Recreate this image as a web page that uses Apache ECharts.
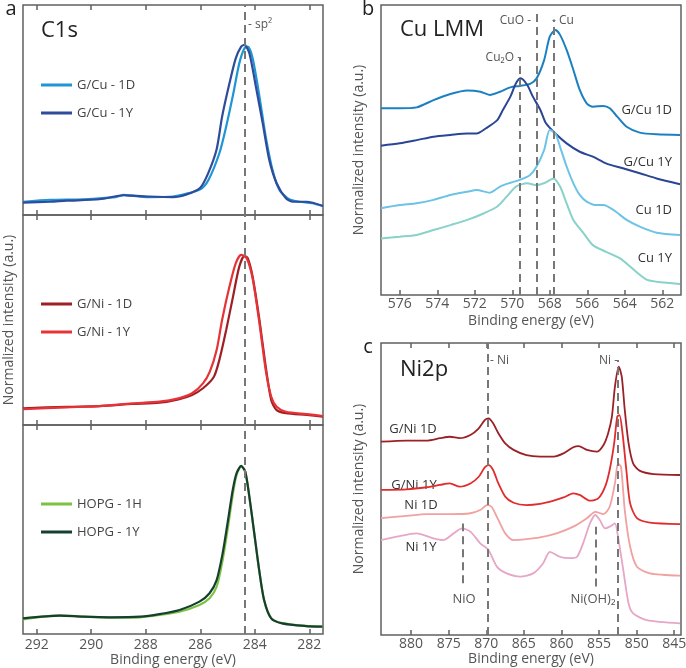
<!DOCTYPE html>
<html><head><meta charset="utf-8">
<script src="https://cdn.jsdelivr.net/npm/echarts/dist/echarts.min.js"></script>
<style>html,body{margin:0;padding:0;background:#fff}#c{width:686px;height:668px}</style>
</head><body><div id="c"></div>
<script>
// ---------- tick labels ----------
const c1sTicks = [282, 284, 286, 288, 290, 292];
const cuTicks = [562, 564, 566, 568, 570, 572, 574, 576];
const niTicks = [845, 850, 855, 860, 865, 870, 875, 880];

// ---------- panel a : C1s (binding energy eV, normalized intensity) ----------
const c1sGCu1D = [[292.5,6.3],[291.5,7.2],[290.3,7.5],[289.1,8.5],[288.8,9.6],[288.5,9.2],[287.9,8.5],[287.0,8.8],[286.5,10.2],[286.0,12.2],[285.7,16.7],[285.3,29.4],[285.05,42.1],[284.8,57.1],[284.57,72.2],[284.38,79.4],[284.26,80.2],[284.08,74.6],[283.83,56.4],[283.6,37.3],[283.35,21.4],[283.1,11.9],[282.74,7.5],[282.37,6.3],[281.9,5.6],[281.5,4.3]];
const c1sGCu1Y = [[292.5,5.9],[291.5,6.3],[290.9,6.8],[289.7,7.5],[288.8,9.4],[288.5,9.2],[287.9,8.8],[287.0,8.5],[286.5,9.8],[286.0,13.0],[285.7,20.2],[285.4,31.3],[285.2,46.8],[284.93,62.7],[284.7,74.6],[284.5,80.2],[284.38,81.0],[284.2,77.0],[283.96,61.1],[283.7,42.9],[283.47,26.2],[283.2,15.1],[282.86,8.0],[282.6,6.3],[282.1,6.3],[281.5,4.3]];
const c1sGNi1D = [[292.5,7.9],[290.9,8.7],[289.7,9.0],[288.5,10.0],[287.5,10.6],[286.8,12.2],[286.3,14.3],[285.9,17.5],[285.5,23.0],[285.3,31.0],[285.05,45.2],[284.8,61.1],[284.57,75.4],[284.38,80.5],[284.26,79.4],[284.08,70.6],[283.83,50.0],[283.6,27.8],[283.4,11.9],[283.2,7.1],[282.86,5.6],[282.1,4.8],[281.5,4.0]];
const c1sGNi1Y = [[292.5,7.5],[290.9,8.4],[289.7,9.0],[288.5,10.3],[287.5,11.1],[286.8,12.7],[286.3,15.1],[285.9,19.8],[285.65,25.4],[285.4,35.7],[285.2,50.0],[284.93,65.9],[284.7,77.0],[284.5,81.0],[284.3,79.4],[284.08,69.8],[283.83,48.4],[283.6,26.2],[283.4,13.5],[283.2,8.7],[282.86,6.3],[282.1,5.2],[281.5,4.3]];
const c1sHOPG1H = [[292.5,7.0],[291.15,8.9],[290.3,8.3],[289.3,7.8],[288.2,8.0],[287.5,9.1],[286.76,10.7],[286.03,13.9],[285.66,17.1],[285.4,22.6],[285.18,35.4],[285.0,49.8],[284.81,66.5],[284.67,76.1],[284.5,80.2],[284.35,77.5],[284.2,65.5],[284.02,48.0],[283.84,30.5],[283.66,16.2],[283.4,7.6],[283.0,5.2],[282.13,3.9],[281.52,3.6]];
const c1sHOPG1Y = [[292.5,7.5],[291.15,8.8],[290.3,8.3],[289.3,8.0],[288.2,8.3],[287.5,9.5],[286.76,11.5],[286.03,15.5],[285.66,19.5],[285.4,25.8],[285.18,38.6],[285.0,53.0],[284.81,68.9],[284.67,76.9],[284.5,80.4],[284.35,77.7],[284.2,65.7],[284.02,48.2],[283.84,30.6],[283.66,16.3],[283.4,7.5],[283.0,5.1],[282.13,3.8],[281.52,3.5]];
const sp2Energy = 284.38;

// ---------- panel b : Cu LMM ----------
const cuGCu1D = [[577,64.4],[576,64.4],[575.1,64.7],[574.2,67.2],[573.3,69.3],[572.4,70.5],[571.7,70.1],[571.2,69.0],[570.65,70.1],[570.1,71.6],[569.6,72.1],[569.05,72.8],[568.7,74.7],[568.3,81.0],[568.0,89.1],[567.7,91.4],[567.45,89.7],[567.1,84.5],[566.74,77.6],[566.4,70.7],[566.03,66.1],[565.7,64.9],[565.14,65.2],[564.8,64.4],[564.4,61.5],[563.9,58.0],[563.2,56.0],[562.3,55.4],[561.05,55.2]];
const cuGCu1Y = [[577,51.5],[576,52.3],[575.1,53.4],[574.2,54.6],[573.3,55.2],[572.4,55.7],[571.9,55.7],[571.4,57.5],[570.8,60.3],[570.5,63.8],[570.1,68.4],[569.8,73.0],[569.55,74.7],[569.2,72.4],[568.9,68.4],[568.5,63.8],[568.2,59.2],[567.7,55.7],[567.1,52.3],[566.4,49.4],[565.7,47.7],[565.0,45.4],[564.1,43.7],[563.2,42.0],[562.3,40.2],[561.05,38.2]];
const cuCu1D = [[577,29.9],[576,31.0],[575.1,31.6],[574.2,32.8],[573.3,34.5],[572.4,35.6],[571.9,36.2],[571.2,35.3],[570.65,37.4],[570.1,38.7],[569.6,39.7],[569.05,41.4],[568.7,44.3],[568.3,50.0],[568.0,56.9],[567.7,55.7],[567.45,51.1],[567.1,44.3],[566.74,38.5],[566.4,34.5],[566.03,32.2],[565.5,31.0],[565.14,31.0],[564.6,29.3],[563.9,25.9],[563.2,23.6],[562.3,21.5],[561.05,20.7]];
const cuCu1Y = [[577,19.5],[576,20.1],[575.1,20.7],[574.2,22.4],[573.3,24.1],[572.4,25.9],[571.5,28.2],[570.8,30.5],[570.3,33.9],[569.8,37.4],[569.2,38.5],[568.7,37.9],[568.25,38.7],[567.8,40.2],[567.45,37.4],[567.1,31.6],[566.74,25.9],[566.2,21.3],[565.7,17.2],[565.0,14.9],[564.25,12.6],[563.5,8.6],[562.8,5.2],[561.9,4.3],[561.05,3.8]];
const cuRefLines = [ {name:'Cu2O', energy:569.6, top:82}, {name:'CuO', energy:568.7, top:98}, {name:'Cu', energy:567.8, top:95} ];

// ---------- panel c : Ni2p ----------
const niGNi1D = [[884.0,66.2],[880.57,66.6],[877.95,66.6],[876.14,67.4],[874.83,67.9],[873.52,67.4],[872.11,68.5],[871.0,70.8],[870.2,73.6],[869.7,74.2],[869.09,72.5],[868.39,69.1],[867.48,65.6],[866.37,63.4],[864.66,61.6],[862.85,61.1],[861.04,61.1],[859.73,62.2],[858.42,64.3],[857.72,64.7],[856.61,63.4],[855.3,62.8],[854.4,65.1],[853.79,69.1],[853.29,74.8],[852.89,85.0],[852.38,91.9],[851.98,88.5],[851.58,77.1],[851.07,65.6],[850.47,58.8],[849.56,56.2],[847.75,55.1],[844.23,54.8]];
const niGNi1Y = [[884.0,49.7],[880.57,49.9],[877.95,50.6],[876.14,51.4],[874.83,51.9],[873.52,50.8],[872.11,51.9],[871.0,54.2],[870.2,57.4],[869.7,58.2],[869.09,56.5],[868.39,51.9],[867.48,47.4],[866.37,45.3],[864.66,44.5],[862.85,44.9],[861.04,46.0],[859.73,47.1],[858.42,48.5],[857.52,47.9],[856.21,46.0],[855.1,46.8],[854.19,50.8],[853.59,56.5],[852.99,65.6],[852.58,74.8],[852.28,75.3],[851.88,69.1],[851.37,56.5],[850.87,45.1],[849.96,40.0],[848.25,38.5],[844.23,38.0]];
const niNi1D = [[884.0,40.0],[880.57,40.8],[877.95,41.4],[874.83,41.4],[872.11,41.7],[870.8,42.8],[869.9,44.5],[869.3,43.9],[868.39,39.4],[867.48,34.8],[866.37,32.5],[864.66,32.8],[862.85,33.4],[860.64,34.8],[858.42,37.1],[856.61,40.0],[855.5,42.2],[854.4,41.4],[853.59,43.9],[852.89,51.9],[852.48,58.8],[852.08,57.6],[851.58,42.8],[850.87,30.3],[849.96,23.4],[848.25,21.1],[844.23,20.3]];
const niNi1Y = [[884.0,32.5],[881.88,33.7],[879.26,34.8],[877.05,33.1],[875.74,32.5],[874.33,34.8],[873.22,36.5],[872.11,35.4],[870.8,31.4],[869.7,29.1],[868.59,23.4],[867.28,21.1],[865.47,20.0],[863.76,21.1],[862.45,24.5],[861.54,28.5],[860.24,26.8],[858.83,26.3],[857.92,26.8],[857.12,31.4],[856.21,38.2],[855.5,41.1],[854.9,39.4],[854.19,36.5],[853.59,37.1],[852.89,38.2],[852.48,33.7],[851.78,22.3],[851.07,10.8],[850.47,7.4],[848.66,5.1],[844.23,4.0]];
const niRefLines = [ {name:'Ni 2p1/2', energy:869.8, bottom:0, top:100}, {name:'Ni 2p3/2', energy:852.5, bottom:0, top:94.2}, {name:'NiO', energy:873.1, bottom:17.7, top:38.2}, {name:'Ni(OH)2', energy:855.5, bottom:16.6, top:37.1} ];

// ---------- styling ----------
const FONT = '"Open Sans", "Noto Sans", sans-serif';
const FRAME = '#606060';
const TXT = '#555';
const DASH = { type: [8, 5], color: '#777', width: 2 };

const chart = echarts.init(document.getElementById('c'), null, { renderer: 'canvas' });

const grids = [
  { left: 23, top: 5, width: 300, height: 210 },
  { left: 23, top: 215, width: 300, height: 210 },
  { left: 23, top: 425, width: 300, height: 209 },
  { left: 381, top: 5, width: 300, height: 290 },
  { left: 381, top: 343, width: 300, height: 292 }
].map(g => Object.assign({ show: true, borderColor: FRAME, borderWidth: 1.5, containLabel: false, outerBoundsMode: 'none' }, g));

function xa(gi, min, max, ticks, pos, labels, margin, nameGap) {
  return {
    type: 'value', gridIndex: gi, min: min, max: max, inverse: true, position: pos,
    axisLine: { show: false }, splitLine: { show: false },
    axisTick: { show: true, inside: true, length: 5, lineStyle: { color: FRAME, width: 1.5 }, customValues: ticks },
    axisLabel: { show: labels, customValues: ticks, margin: margin, color: TXT, fontSize: 14, fontFamily: FONT, hideOverlap: false },
    name: labels ? 'Binding energy (eV)' : '', nameLocation: 'middle', nameGap: nameGap,
    nameTextStyle: { color: TXT, fontSize: 14, fontFamily: FONT }
  };
}
const xAxes = [
  xa(0, 281.5, 292.5, c1sTicks, 'bottom', false, 4, 0),
  xa(1, 281.5, 292.5, c1sTicks, 'bottom', false, 4, 0),
  xa(2, 281.5, 292.5, c1sTicks, 'bottom', true, 4, 18),
  xa(3, 561, 577, cuTicks, 'bottom', true, 2, 19),
  xa(4, 844.1, 884.0, niTicks, 'bottom', true, 2, 15),
  xa(0, 281.5, 292.5, c1sTicks, 'top', false, 4, 0),
  xa(1, 281.5, 292.5, c1sTicks, 'top', false, 4, 0),
  xa(2, 281.5, 292.5, c1sTicks, 'top', false, 4, 0),
  xa(4, 844.1, 884.0, niTicks, 'top', false, 4, 0)
];
function ya(gi, name, gap) {
  return {
    type: 'value', gridIndex: gi, min: 0, max: 100,
    axisLine: { show: false }, axisTick: { show: false }, axisLabel: { show: false }, splitLine: { show: false },
    name: name, nameLocation: 'middle', nameGap: gap,
    nameTextStyle: { color: TXT, fontSize: 14, fontFamily: FONT }
  };
}
const yAxes = [
  ya(0, '', 0), ya(1, 'Normalized intensity (a.u.)', 7), ya(2, '', 0),
  ya(3, 'Normalized intensity (a.u.)', 15), ya(4, 'Normalized intensity (a.u.)', 15)
];

function line(name, data, color, gi, width, extra) {
  return Object.assign({
    type: 'line', name: name, data: data, xAxisIndex: gi, yAxisIndex: gi,
    showSymbol: false, smooth: 0.25, animation: false,
    lineStyle: { color: color, width: width }, itemStyle: { color: color }
  }, extra || {});
}
function fullLine(energy) {
  return { silent: true, symbol: ['none', 'none'], label: { show: false }, lineStyle: DASH, animation: false, data: [{ xAxis: energy }] };
}
function segLines(list) {
  return { silent: true, symbol: ['none', 'none'], label: { show: false }, lineStyle: DASH, animation: false,
    data: list.map(r => [{ coord: [r.energy, r.bottom || 0] }, { coord: [r.energy, r.top] }]) };
}

const series = [
  line('G/Cu - 1D', c1sGCu1D, '#1e95d4', 0, 2.2),
  line('G/Cu - 1Y', c1sGCu1Y, '#2f4b9b', 0, 2.2, { markLine: fullLine(sp2Energy) }),
  line('G/Ni - 1D', c1sGNi1D, '#9e1f24', 1, 2.2),
  line('G/Ni - 1Y', c1sGNi1Y, '#e63336', 1, 2.2, { markLine: fullLine(sp2Energy) }),
  line('HOPG - 1H', c1sHOPG1H, '#7cc242', 2, 2.2),
  line('HOPG - 1Y', c1sHOPG1Y, '#173f30', 2, 2.2, { markLine: fullLine(sp2Energy) }),
  line('G/Cu 1D', cuGCu1D, '#1b80c2', 3, 2),
  line('G/Cu 1Y', cuGCu1Y, '#2a4595', 3, 2),
  line('Cu 1D', cuCu1D, '#6cc3e6', 3, 2),
  line('Cu 1Y', cuCu1Y, '#88d2ca', 3, 2, { markLine: segLines(cuRefLines) }),
  line('G/Ni 1D', niGNi1D, '#9b2127', 4, 1.8),
  line('G/Ni 1Y', niGNi1Y, '#e02c2c', 4, 1.8),
  line('Ni 1D', niNi1D, '#f0a1a0', 4, 1.8),
  line('Ni 1Y', niNi1Y, '#e6a6c6', 4, 1.8, { markLine: segLines(niRefLines) })
];

function leg(names, top) {
  return {
    data: names, left: 36, top: top, orient: 'vertical', itemGap: 12,
    icon: 'rect', itemWidth: 31, itemHeight: 3, selectedMode: false,
    textStyle: { color: '#444', fontSize: 13, fontFamily: FONT, lineHeight: 16 }
  };
}

function txt(x, y, text, size, align, color) {
  return { type: 'text', x: x, y: y, silent: true,
    style: { text: text, fill: color || TXT, font: size + 'px ' + FONT, align: align || 'left', verticalAlign: 'middle' } };
}
const graphics = [
  txt(11, 9, 'a', 20, 'center', '#222'),
  txt(41, 31, 'C1s', 22, 'left', '#222'),
  txt(248, 25, '- sp²', 12, 'left'),
  txt(368, 9, 'b', 20, 'center', '#222'),
  txt(400, 30, 'Cu LMM', 22, 'left', '#222'),
  txt(521, 58, 'Cu₂O -', 12, 'right'),
  txt(531, 21, 'CuO -', 12, 'right'),
  txt(552, 21, '- Cu', 12, 'left'),
  txt(672, 110, 'G/Cu 1D', 13, 'right', '#333'),
  txt(672, 162, 'G/Cu 1Y', 13, 'right', '#333'),
  txt(672, 210, 'Cu 1D', 13, 'right', '#333'),
  txt(672, 258, 'Cu 1Y', 13, 'right', '#333'),
  txt(368, 347, 'c', 20, 'center', '#222'),
  txt(400, 370, 'Ni2p', 22, 'left', '#222'),
  txt(490, 361, '- Ni', 12, 'left'),
  txt(618, 361, 'Ni -', 12, 'right'),
  txt(413, 429, 'G/Ni 1D', 13, 'center', '#333'),
  txt(414, 485, 'G/Ni 1Y', 13, 'center', '#333'),
  txt(421, 505, 'Ni 1D', 13, 'center', '#333'),
  txt(421, 547, 'Ni 1Y', 13, 'center', '#333'),
  txt(464, 599, 'NiO', 13, 'center'),
  txt(593, 599, 'Ni(OH)₂', 13, 'center')
];

chart.setOption({
  animation: false,
  backgroundColor: '#fff',
  grid: grids,
  xAxis: xAxes,
  yAxis: yAxes,
  legend: [
    leg(['G/Cu - 1D', 'G/Cu - 1Y'], 72),
    leg(['G/Ni - 1D', 'G/Ni - 1Y'], 291),
    leg(['HOPG - 1H', 'HOPG - 1Y'], 491)
  ],
  series: series,
  graphic: graphics
});
</script></body></html>
